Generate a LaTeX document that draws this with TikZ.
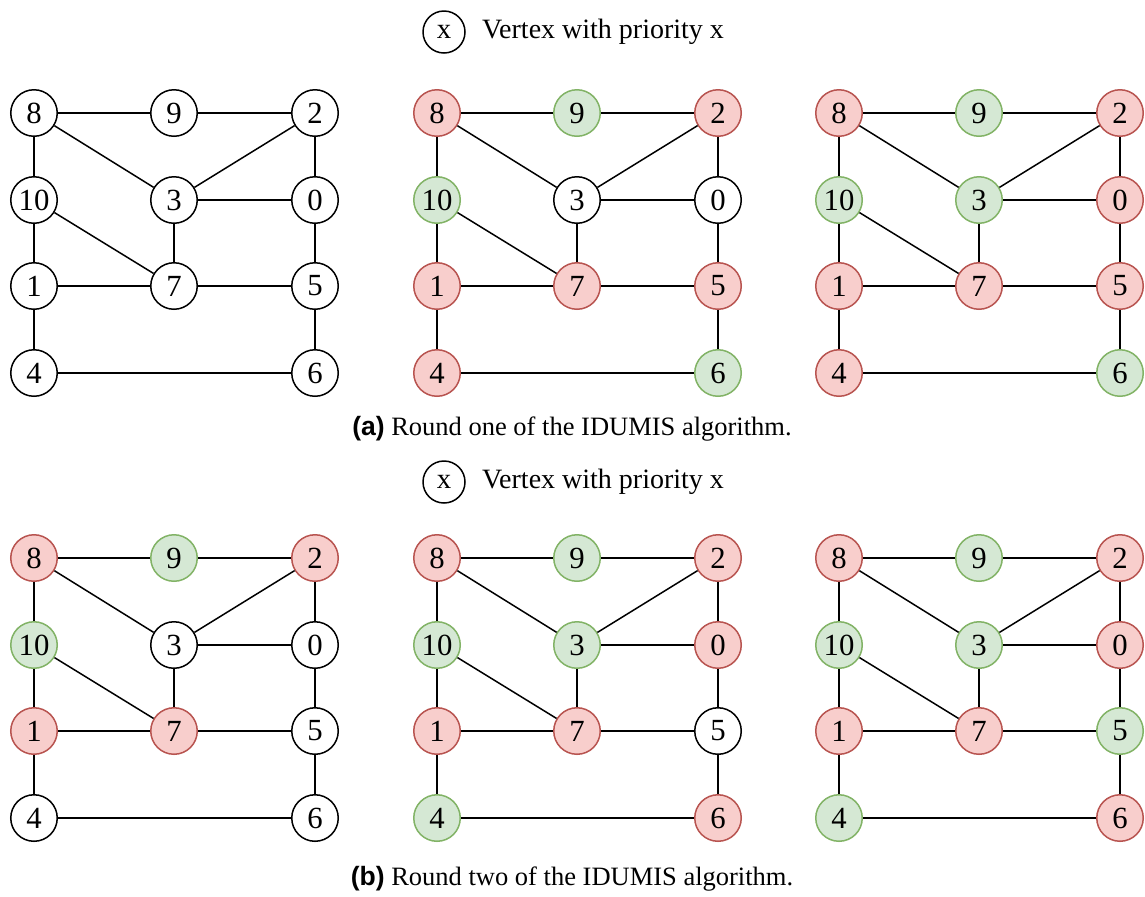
\documentclass[tikz,border=0pt]{standalone}
\usepackage{fontspec}
\setmainfont{Liberation Serif}
\newfontfamily\capfont{Liberation Sans}
\usetikzlibrary{positioning}

\definecolor{lostfill}{HTML}{F8CECC}
\definecolor{lostline}{HTML}{B85450}
\definecolor{wonfill}{HTML}{D5E8D4}
\definecolor{wonline}{HTML}{82B366}

\tikzset{
  vtx/.style={circle,draw,line width=0.6pt,minimum size=18.6pt,inner sep=0pt,
    font=\rmfamily\fontsize{12.3}{14}\selectfont},
  keytext/.style={font=\rmfamily\fontsize{11.2}{13}\selectfont},
  lost/.style={fill=lostfill,draw=lostline},
  won/.style={fill=wonfill,draw=wonline},
  v0/.style={},v1/.style={},v2/.style={},v3/.style={},v4/.style={},v5/.style={},
  v6/.style={},v7/.style={},v8/.style={},v9/.style={},v10/.style={},
}

% one copy of the graph: name prefix, shift, colouring of the vertices
\newcommand\idgraph[3]{%
  \begin{scope}[shift={#2},#3]
    \node[vtx,v8] (#1-8) at (0,0) {8};
    \node[vtx,v9] (#1-9) at (140,0) {9};
    \node[vtx,v2] (#1-2) at (281,0) {2};
    \node[vtx,v10] (#1-10) at (0,87) {10};
    \node[vtx,v3] (#1-3) at (140,87) {3};
    \node[vtx,v0] (#1-0) at (281,87) {0};
    \node[vtx,v1] (#1-1) at (0,173) {1};
    \node[vtx,v7] (#1-7) at (140,173) {7};
    \node[vtx,v5] (#1-5) at (281,173) {5};
    \node[vtx,v4] (#1-4) at (0,260) {4};
    \node[vtx,v6] (#1-6) at (281,260) {6};
    \path[-,line width=0.6pt]
      (#1-8) edge (#1-9)
      (#1-9) edge (#1-2)
      (#1-8) edge (#1-10)
      (#1-8) edge (#1-3)
      (#1-2) edge (#1-3)
      (#1-2) edge (#1-0)
      (#1-3) edge (#1-0)
      (#1-10) edge (#1-1)
      (#1-10) edge (#1-7)
      (#1-3) edge (#1-7)
      (#1-0) edge (#1-5)
      (#1-1) edge (#1-7)
      (#1-7) edge (#1-5)
      (#1-1) edge (#1-4)
      (#1-5) edge (#1-6)
      (#1-4) edge (#1-6);
  \end{scope}}

\begin{document}
\begin{tikzpicture}[x=0.4pt,y=-0.4pt]
  \useasboundingbox (0,0) rectangle (1145,896);

  % round one
  \node[vtx,minimum size=16.8pt,font=\rmfamily\fontsize{11.5}{13}\selectfont] (keya) at (444,32) {x};
  \node[keytext,right=3pt of keya] (keytexta) {Vertex with priority x};
  \idgraph{a1}{(34,113)}{}
  \idgraph{a2}{(437,113)}{v8/.style=lost,v9/.style=won,v2/.style=lost,v10/.style=won,
    v1/.style=lost,v7/.style=lost,v5/.style=lost,v4/.style=lost,v6/.style=won}
  \idgraph{a3}{(839,113)}{v8/.style=lost,v9/.style=won,v2/.style=lost,v10/.style=won,
    v3/.style=won,v0/.style=lost,v1/.style=lost,v7/.style=lost,v5/.style=lost,
    v4/.style=lost,v6/.style=won}
  \node[font=\rmfamily\fontsize{10.6}{13}\selectfont] (capa) at (572,429)
    {{\capfont\bfseries (a)} Round one of the IDUMIS algorithm.};

  % round two
  \node[vtx,minimum size=16.8pt,font=\rmfamily\fontsize{11.5}{13}\selectfont] (keyb) at (444,482) {x};
  \node[keytext,right=3pt of keyb] (keytextb) {Vertex with priority x};
  \idgraph{b1}{(34,558)}{v8/.style=lost,v9/.style=won,v2/.style=lost,v10/.style=won,
    v1/.style=lost,v7/.style=lost}
  \idgraph{b2}{(437,558)}{v8/.style=lost,v9/.style=won,v2/.style=lost,v10/.style=won,
    v3/.style=won,v0/.style=lost,v1/.style=lost,v7/.style=lost,v4/.style=won,v6/.style=lost}
  \idgraph{b3}{(839,558)}{v8/.style=lost,v9/.style=won,v2/.style=lost,v10/.style=won,
    v3/.style=won,v0/.style=lost,v1/.style=lost,v7/.style=lost,v5/.style=won,
    v4/.style=won,v6/.style=lost}
  \node[font=\rmfamily\fontsize{10.6}{13}\selectfont] (capb) at (572,879)
    {{\capfont\bfseries (b)} Round two of the IDUMIS algorithm.};
\end{tikzpicture}
\end{document}
